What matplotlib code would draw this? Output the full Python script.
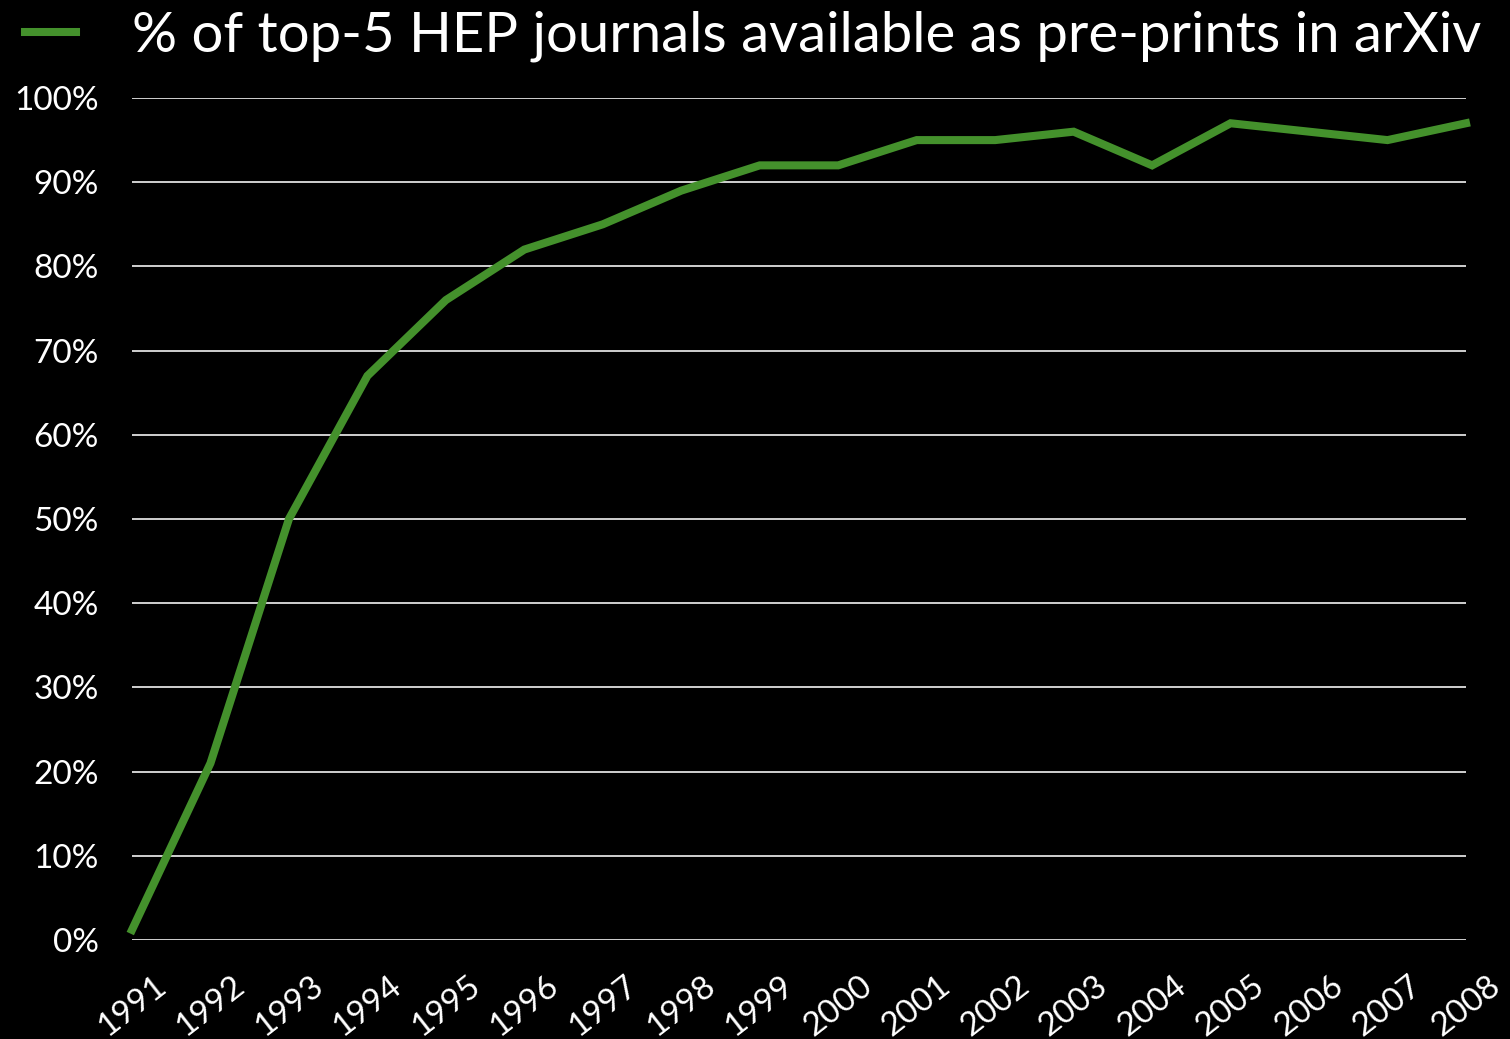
import matplotlib.pyplot as plt
import numpy as np

years = [str(y) for y in range(1991, 2009)]
pct = [1.2, 21, 50, 67, 76, 82, 85, 89, 92, 92, 95, 95, 96, 92, 97, 96, 95, 97]
yticks = list(range(0, 101, 10))

plt.rcParams['font.family'] = ['Lato', 'DejaVu Sans']

fig = plt.figure(figsize=(15.1, 10.39), dpi=100, facecolor='black')
ax = fig.add_axes([132 / 1510, 1 - 940 / 1039, (1466 - 132) / 1510, (940 - 98) / 1039])
ax.set_facecolor('black')

x = np.arange(len(years))
line, = ax.plot(x, pct, color='#44912c', lw=5.8, solid_joinstyle='miter',
                clip_on=False, zorder=3,
                label='% of top-5 HEP journals available as pre-prints in arXiv')

# horizontal grid
for v in yticks:
    ax.axhline(v, color='#d0d0d0', lw=1.4, zorder=1)

ax.set_xlim(0, len(years) - 1)
ax.set_ylim(0, 100)
ax.set_yticks(yticks)
ax.set_yticklabels([f'{v}%' for v in yticks], color='white', fontsize=24)
ax.set_xticks(x)
ax.set_xticklabels(years, color='white', fontsize=24, rotation=38,
                   ha='center', va='top')
ax.tick_params(axis='y', length=0, pad=24)
ax.tick_params(axis='x', length=0, pad=22)
for s in ax.spines.values():
    s.set_visible(False)

leg = fig.legend(handles=[line], loc='center left',
                 bbox_to_anchor=(25 / 1510, 1 - 36 / 1039), frameon=False,
                 fontsize=40.5, handlelength=0.9, handletextpad=1.0,
                 borderpad=0, borderaxespad=0, labelcolor='white')

fig.savefig('out.png', dpi=100, facecolor='black')
